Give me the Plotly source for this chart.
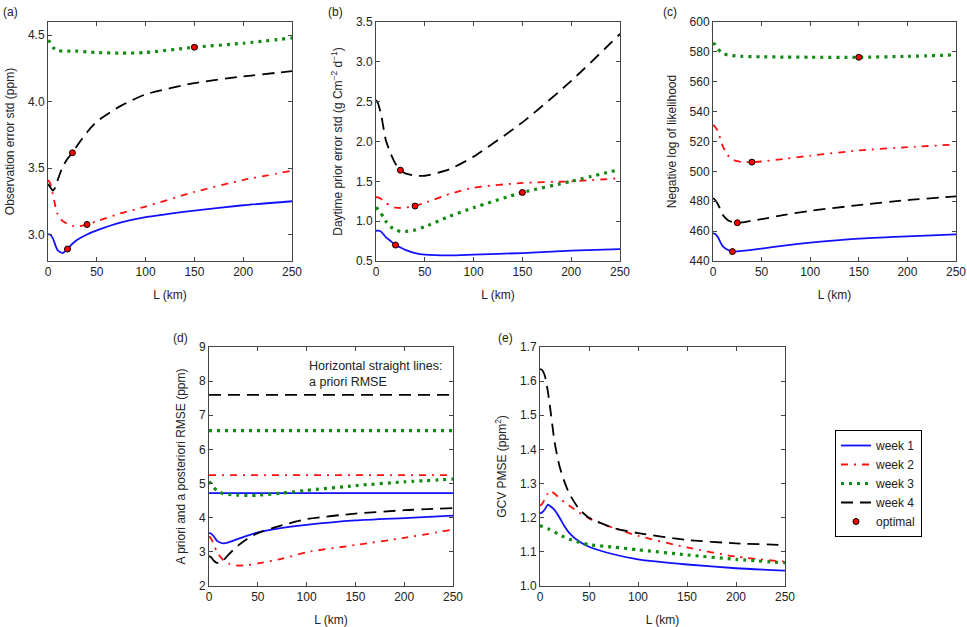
import plotly.graph_objects as go

# distance scale L (km), shared by all curves
L = [0, 2, 5, 8, 10, 15, 20, 25, 30, 40, 50, 75, 100, 150, 200, 250]

WEEKS = ['week 1', 'week 2', 'week 3', 'week 4']

# (a) observation error std (ppm)
obs_w1 = [3.00, 3.00, 2.97, 2.91, 2.88, 2.86, 2.89, 2.93, 2.96, 3.00, 3.03, 3.09, 3.13, 3.18, 3.22, 3.25]
obs_w2 = [3.41, 3.39, 3.30, 3.20, 3.15, 3.10, 3.08, 3.065, 3.06, 3.075, 3.10, 3.16, 3.21, 3.32, 3.41, 3.48]
obs_w3 = [4.46, 4.45, 4.41, 4.39, 4.385, 4.38, 4.38, 4.38, 4.38, 4.375, 4.37, 4.365, 4.37, 4.41, 4.44, 4.48]
obs_w4 = [3.38, 3.36, 3.33, 3.36, 3.41, 3.51, 3.57, 3.615, 3.67, 3.77, 3.85, 3.97, 4.055, 4.14, 4.19, 4.23]

# (b) daytime prior error std (g C m-2 d-1)
pri_w1 = [0.88, 0.88, 0.87, 0.83, 0.80, 0.75, 0.70, 0.67, 0.64, 0.60, 0.58, 0.57, 0.58, 0.60, 0.63, 0.65]
pri_w2 = [1.30, 1.30, 1.28, 1.25, 1.23, 1.19, 1.17, 1.165, 1.17, 1.19, 1.23, 1.34, 1.42, 1.48, 1.50, 1.54]
pri_w3 = [1.17, 1.15, 1.10, 1.04, 1.00, 0.93, 0.89, 0.87, 0.87, 0.89, 0.93, 1.06, 1.17, 1.36, 1.50, 1.65]
pri_w4 = [2.52, 2.48, 2.35, 2.15, 2.02, 1.85, 1.72, 1.64, 1.60, 1.57, 1.57, 1.65, 1.81, 2.24, 2.76, 3.35]

# (c) negative log of likelihood
nll_w1 = [458.5, 458.3, 456, 452, 450, 447.5, 446.3, 446.5, 446.8, 447.5, 448.3, 450.5, 452.3, 455, 456.5, 457.8]
nll_w2 = [531, 530, 527, 521, 517, 511, 508, 506.8, 506.3, 506.2, 506.6, 508.5, 510.5, 514, 516.2, 518]
nll_w3 = [585.5, 585, 582, 580, 579, 578, 577.5, 577.2, 577, 576.8, 576.7, 576.5, 576.4, 576.4, 577, 578]
nll_w4 = [482, 481, 478, 474, 471, 467.5, 466, 465.6, 465.8, 467, 468, 471, 473.6, 477.4, 480.8, 483.2]

# optimal L and the value there, per week, for (a)-(c)
opt_L = [20, 40, 150, 25]
opt_obs = [2.89, 3.075, 4.41, 3.615]
opt_pri = [0.70, 1.19, 1.36, 1.64]
opt_nll = [446.3, 506.2, 576.4, 465.6]

# (d) a priori (flat) and a posteriori RMSE (ppm)
prior_rmse = [4.72, 5.25, 6.55, 7.6]
post_w1 = [3.55, 3.54, 3.45, 3.33, 3.29, 3.25, 3.28, 3.33, 3.38, 3.48, 3.57, 3.70, 3.79, 3.92, 3.99, 4.06]
post_w2 = [3.45, 3.40, 3.20, 3.02, 2.92, 2.75, 2.66, 2.62, 2.60, 2.61, 2.66, 2.80, 2.99, 3.20, 3.41, 3.65]
post_w3 = [5.05, 5.00, 4.88, 4.80, 4.76, 4.70, 4.68, 4.67, 4.66, 4.65, 4.66, 4.72, 4.80, 4.94, 5.05, 5.13]
post_w4 = [2.88, 2.85, 2.74, 2.68, 2.68, 2.76, 2.92, 3.06, 3.19, 3.40, 3.55, 3.78, 3.96, 4.12, 4.22, 4.28]

# (e) GCV PMSE (ppm^2)
gcv_w1 = [1.213, 1.215, 1.225, 1.238, 1.235, 1.222, 1.20, 1.175, 1.155, 1.13, 1.115, 1.093, 1.078, 1.063, 1.052, 1.045]
gcv_w2 = [1.235, 1.24, 1.255, 1.272, 1.279, 1.27, 1.257, 1.245, 1.235, 1.215, 1.198, 1.17, 1.147, 1.113, 1.086, 1.071]
gcv_w3 = [1.176, 1.175, 1.172, 1.168, 1.165, 1.158, 1.15, 1.143, 1.137, 1.128, 1.121, 1.114, 1.106, 1.091, 1.078, 1.068]
gcv_w4 = [1.635, 1.633, 1.615, 1.57, 1.53, 1.42, 1.35, 1.305, 1.27, 1.225, 1.20, 1.17, 1.155, 1.135, 1.125, 1.12]

FONT = 'Liberation Sans, Arial, sans-serif'
STYLES = [
    dict(color='#1010ff', width=1.8, dash='solid'),
    dict(color='#ff1010', width=1.8, dash='7px,6px,2px,6px'),
    dict(color='#138a13', width=3.2, dash='3px,5px'),
    dict(color='#000000', width=1.8, dash='12px,7px'),
]


def px_x(a, b):
    return [a / 967, b / 967]


def px_y(top, bottom):
    return [1 - bottom / 627, 1 - top / 627]


def add_weeks(fig, ax, series, legend=False):
    for name, ys, st in zip(WEEKS, series, STYLES):
        fig.add_trace(go.Scatter(x=L, y=ys, mode='lines', name=name, line=dict(shape='spline', smoothing=0.6, **st),
                                 xaxis='x' + ax, yaxis='y' + ax, showlegend=legend))


def add_optimal(fig, ax, vals, legend=False):
    fig.add_trace(go.Scatter(x=opt_L, y=vals, mode='markers', name='optimal',
                             marker=dict(color='#ff0000', size=6, line=dict(color='black', width=1)),
                             xaxis='x' + ax, yaxis='y' + ax, showlegend=legend))


fig = go.Figure()

add_weeks(fig, '', [obs_w1, obs_w2, obs_w3, obs_w4], legend=True)
add_optimal(fig, '', opt_obs, legend=True)
add_weeks(fig, '2', [pri_w1, pri_w2, pri_w3, pri_w4])
add_optimal(fig, '2', opt_pri)
add_weeks(fig, '3', [nll_w1, nll_w2, nll_w3, nll_w4])
add_optimal(fig, '3', opt_nll)

# (d): flat a priori lines first, then the posterior curves
for val, st in zip(prior_rmse, STYLES):
    fig.add_trace(go.Scatter(x=[L[0], L[-1]], y=[val, val], mode='lines', line=st,
                             xaxis='x4', yaxis='y4', showlegend=False))
add_weeks(fig, '4', [post_w1, post_w2, post_w3, post_w4])
add_weeks(fig, '5', [gcv_w1, gcv_w2, gcv_w3, gcv_w4])

# no automargin: the domains below are pixel positions and must not move
axis_common = dict(showline=True, linecolor='#444', linewidth=1, mirror='ticks', ticks='inside', ticklen=4,
                   tickcolor='#444', showgrid=False, zeroline=False, automargin=False,
                   tickfont=dict(size=12, color='#222'), title_font=dict(size=12, color='#222'))


def xax(dom, anchor):
    return dict(axis_common, domain=dom, anchor=anchor, range=[0, 250], dtick=50, title_text='L (km)',
                title_standoff=12)


def yax(dom, anchor, rng, dtick, title, fmt=None):
    d = dict(axis_common, domain=dom, anchor=anchor, range=rng, dtick=dtick, title_text=title, title_standoff=10)
    if fmt:
        d['tickformat'] = fmt
    return d


top = px_y(22, 261)
bot = px_y(347, 586)

fig.update_layout(
    width=967, height=627,
    margin=dict(l=0, r=0, t=0, b=0),
    paper_bgcolor='white', plot_bgcolor='white',
    font=dict(family=FONT, size=12, color='#222'),
    xaxis=xax(px_x(48, 292), 'y'),
    yaxis=yax(top, 'x', [2.8, 4.6], 0.5, 'Observation error std (ppm)', '.1f'),
    xaxis2=xax(px_x(376, 620), 'y2'),
    yaxis2=yax(top, 'x2', [0.5, 3.5], 0.5, 'Daytime prior error std (g Cm<sup>−2</sup> d<sup>−1</sup>)', '.1f'),
    xaxis3=xax(px_x(713, 956), 'y3'),
    yaxis3=yax(top, 'x3', [440, 600], 20, 'Negative log of likelihood'),
    xaxis4=xax(px_x(209, 453), 'y4'),
    yaxis4=yax(bot, 'x4', [2, 9], 1, 'A priori and a posteriori RMSE (ppm)'),
    xaxis5=xax(px_x(540, 785), 'y5'),
    yaxis5=yax(bot, 'x5', [1.0, 1.7], 0.1, 'GCV PMSE (ppm<sup>2</sup>)', '.1f'),
    legend=dict(x=835 / 967, y=1 - 430 / 627, xanchor='left', yanchor='top', bordercolor='black', borderwidth=1,
                bgcolor='white', font=dict(size=12), tracegroupgap=0, itemwidth=30),
)

# panel letters
for txt, x, y in [('(a)', 1, 3), ('(b)', 326, 3), ('(c)', 661, 3), ('(d)', 171, 329), ('(e)', 496, 329)]:
    fig.add_annotation(text=txt, x=x / 967, y=1 - y / 627, xref='paper', yref='paper', xanchor='left',
                       yanchor='top', showarrow=False, font=dict(size=12))

fig.add_annotation(text='Horizontal straight lines:<br>a priori RMSE', x=100, y=8.7, xref='x4', yref='y4',
                   xanchor='left', yanchor='top', align='left', showarrow=False, font=dict(size=12.5))

# the page's default body margin would shift the whole figure by 8px
fig.write_html('out.html', config={'displayModeBar': False},
               post_script="document.body.style.margin='0';")
